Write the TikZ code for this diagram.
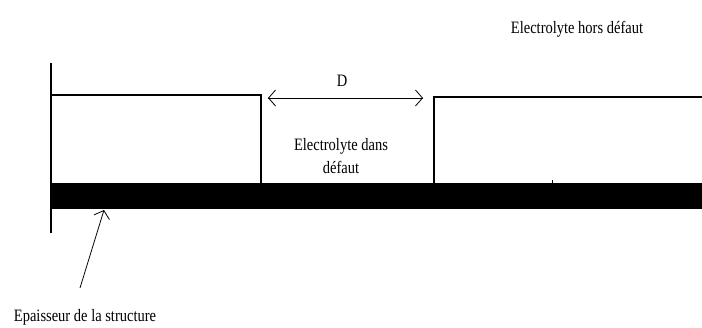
\documentclass[tikz,border=0pt]{standalone}
\usepackage{fontspec}
\usepackage{graphicx}
\setmainfont{Liberation Serif}
\usetikzlibrary{arrows.meta}
\newcommand{\tallt}[1]{\scalebox{1}[1.2]{#1}}
\begin{document}
\begin{tikzpicture}[x=1pt,y=-1pt,
  wall/.style={line width=2.8pt},
  thin/.style={line width=0.8pt},
  lbl/.style={font=\fontsize{14.5}{16}\selectfont, inner sep=0pt, align=center},
  barb/.style={-{Straight Barb[length=7pt,width=16pt,line width=0.8pt]}}]
\useasboundingbox (0,0) rectangle (702,327);
% structure
\fill (50,183) rectangle (702,209);
\draw[wall] (51,63) -- (51,233);
\draw[wall] (51,95) -- (261,95) -- (261,184);
\draw[wall] (434,184) -- (434,97) -- (702,97);
\draw[line width=0.6pt] (552,180) -- (552,183);
% dimension D
\coordinate (dl) at (268,98);
\coordinate (dr) at (423,98);
\draw[thin,barb] (dl) -- (dr);
\draw[thin,barb] (dr) -- (dl);
\node[lbl] (D) at (342,81) {\tallt{D}};
% labels
\node[lbl] (dans) at (341,156) {\tallt{Electrolyte dans}\\[6pt]\tallt{défaut}};
\node[lbl] (hors) at (577,29) {\tallt{Electrolyte hors défaut}};
\node[lbl] (ep) at (85,317) {\tallt{Epaisseur de la structure}};
\coordinate (eptip) at (104,210);
\coordinate (epstart) at (80,288);
\draw[thin,barb] (epstart) -- (eptip);
\end{tikzpicture}
\end{document}
